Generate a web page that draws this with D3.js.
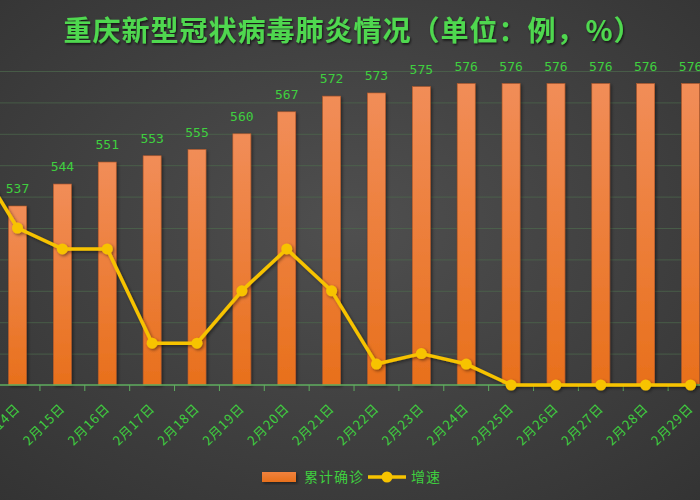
<!DOCTYPE html>
<html>
<head>
<meta charset="utf-8">
<script src="https://cdn.jsdelivr.net/npm/d3@7"></script>
<style>
  html, body { margin: 0; padding: 0; background: #3a3a3a; }
  svg { display: block; }
</style>
</head>
<body>
<div id="chart"></div>
<script>
// data (2月13日 sits just off the left edge)
const days = ["2月13日", "2月14日", "2月15日", "2月16日", "2月17日", "2月18日", "2月19日", "2月20日",
    "2月21日", "2月22日", "2月23日", "2月24日", "2月25日", "2月26日", "2月27日", "2月28日", "2月29日"]
const confirmed = [529, 537, 544, 551, 553, 555, 560, 567, 572, 573, 575, 576, 576, 576, 576, 576, 576]
const growth = [2.2, 1.5, 1.3, 1.3, 0.4, 0.4, 0.9, 1.3, 0.9, 0.2, 0.3, 0.2, 0, 0, 0, 0, 0]
const yTicks = [480, 490, 500, 510, 520, 530, 540, 550, 560, 570, 580]

const width = 700
const height = 500
const green = "#3fcf3f"

const svg = d3.select("#chart").append("svg")
    .attr("width", width)
    .attr("height", height)

const defs = svg.append("defs")

let bg = defs.append("radialGradient").attr("id", "bg")
    .attr("cx", "50%").attr("cy", "45%").attr("r", "75%")
bg.append("stop").attr("offset", "0%").attr("stop-color", "#4f4f4f")
bg.append("stop").attr("offset", "100%").attr("stop-color", "#333333")

let barGrad = defs.append("linearGradient").attr("id", "barGrad")
    .attr("x1", 0).attr("y1", 0).attr("x2", 0).attr("y2", 1)
barGrad.append("stop").attr("offset", "0%").attr("stop-color", "#f18d58")
barGrad.append("stop").attr("offset", "100%").attr("stop-color", "#e8701c")

let legGrad = defs.append("linearGradient").attr("id", "legGrad")
    .attr("x1", 0).attr("y1", 0).attr("x2", 0).attr("y2", 1)
legGrad.append("stop").attr("offset", "0%").attr("stop-color", "#f0823e")
legGrad.append("stop").attr("offset", "100%").attr("stop-color", "#e8701c")

let shadow = defs.append("filter").attr("id", "shadow")
    .attr("x", "-30%").attr("y", "-30%").attr("width", "160%").attr("height", "160%")
shadow.append("feDropShadow").attr("dx", 1.5).attr("dy", 1.5).attr("stdDeviation", 1.5)
    .attr("flood-color", "#000").attr("flood-opacity", 0.45)

let titleShadow = defs.append("filter").attr("id", "titleShadow")
titleShadow.append("feDropShadow").attr("dx", 1).attr("dy", 1.5).attr("stdDeviation", 1)
    .attr("flood-color", "#000").attr("flood-opacity", 0.7)

svg.append("rect").attr("width", width).attr("height", height).attr("fill", "url(#bg)")

// plot area runs past both edges, as in the cropped original
const x = d3.scaleBand()
    .domain(days)
    .range([-49.8, 713])
    .paddingInner(0)
    .paddingOuter(0)

const y = d3.scaleLinear().domain([480, 580]).range([385, 71])
const y2 = d3.scaleLinear().domain([0, 3]).range([385, 71])

const barW = 18

// grid
svg.append("g")
    .selectAll("line")
    .data(yTicks.slice(1))
    .enter().append("line")
    .attr("x1", 0).attr("x2", width)
    .attr("y1", d => y(d) + 0.5).attr("y2", d => y(d) + 0.5)
    .attr("stroke", "#4d6a4d")
    .attr("stroke-opacity", 0.7)
    .attr("stroke-width", 1)

// bars
svg.append("g")
    .selectAll("rect")
    .data(days)
    .enter().append("rect")
    .attr("x", d => x(d) + x.bandwidth() / 2 - barW / 2)
    .attr("y", (d, i) => y(confirmed[i]))
    .attr("width", barW)
    .attr("height", (d, i) => y(480) - y(confirmed[i]))
    .attr("fill", "url(#barGrad)")
    .attr("stroke", "#b65a2a")
    .attr("stroke-width", 0.6)
    .attr("filter", "url(#shadow)")

// bar labels
svg.append("g")
    .selectAll("text")
    .data(days)
    .enter().append("text")
    .attr("x", d => x(d) + x.bandwidth() / 2)
    .attr("y", (d, i) => y(confirmed[i]) - 13)
    .attr("text-anchor", "middle")
    .attr("font-family", "DejaVu Sans Mono, monospace")
    .attr("font-size", 13)
    .attr("fill", green)
    .text((d, i) => confirmed[i])

// x axis
const xAxis = svg.append("g")
    .attr("transform", "translate(0,385)")
    .call(d3.axisBottom(x).tickSize(0).tickFormat(""))
xAxis.select(".domain").attr("stroke", "#5fae5f").attr("stroke-width", 1.5)
    .attr("d", "M0,0H" + width)

svg.append("g")
    .selectAll("line")
    .data(days.slice(1))
    .enter().append("line")
    .attr("x1", d => x(d)).attr("x2", d => x(d))
    .attr("y1", 385).attr("y2", 391)
    .attr("stroke", "#5fae5f")
    .attr("stroke-width", 1)

svg.append("g")
    .selectAll("text")
    .data(days)
    .enter().append("text")
    .attr("transform", d => "translate(" + (x(d) + x.bandwidth() / 2 + 3.5) + ",409) rotate(-45)")
    .attr("text-anchor", "end")
    .attr("font-family", "Noto Sans CJK SC")
    .attr("font-size", 13)
    .attr("letter-spacing", 1)
    .attr("fill", green)
    .text(d => d)

// growth line
const line = d3.line()
    .x((d, i) => x(days[i]) + x.bandwidth() / 2)
    .y(d => y2(d))

const lineG = svg.append("g").attr("filter", "url(#shadow)")
lineG.append("path")
    .datum(growth)
    .attr("d", line)
    .attr("fill", "none")
    .attr("stroke", "#f7c300")
    .attr("stroke-width", 3.5)
    .attr("stroke-linejoin", "round")

lineG.selectAll("circle")
    .data(growth)
    .enter().append("circle")
    .attr("cx", (d, i) => x(days[i]) + x.bandwidth() / 2)
    .attr("cy", d => y2(d))
    .attr("r", 5.5)
    .attr("fill", "#f7c300")

// title
svg.append("text")
    .attr("x", 353)
    .attr("y", 41)
    .attr("text-anchor", "middle")
    .attr("font-family", "Noto Sans CJK SC")
    .attr("font-weight", "bold")
    .attr("font-size", 28)
    .attr("letter-spacing", 1)
    .attr("fill", "#4fd84f")
    .attr("filter", "url(#titleShadow)")
    .text("重庆新型冠状病毒肺炎情况（单位：例，%）")

// legend
const legend = svg.append("g")
legend.append("rect")
    .attr("x", 262).attr("y", 472).attr("width", 34).attr("height", 10)
    .attr("fill", "url(#legGrad)")
    .attr("filter", "url(#shadow)")
legend.append("text")
    .attr("x", 304).attr("y", 482)
    .attr("font-family", "Noto Sans CJK SC")
    .attr("font-size", 14)
    .attr("letter-spacing", 1)
    .attr("fill", green)
    .text("累计确诊")
legend.append("line")
    .attr("x1", 368).attr("x2", 406).attr("y1", 477).attr("y2", 477)
    .attr("stroke", "#f7c300").attr("stroke-width", 3.5)
legend.append("circle")
    .attr("cx", 387).attr("cy", 477).attr("r", 5.5)
    .attr("fill", "#f7c300")
legend.append("text")
    .attr("x", 411).attr("y", 482)
    .attr("font-family", "Noto Sans CJK SC")
    .attr("font-size", 14)
    .attr("letter-spacing", 1)
    .attr("fill", green)
    .text("增速")
</script>
</body>
</html>
